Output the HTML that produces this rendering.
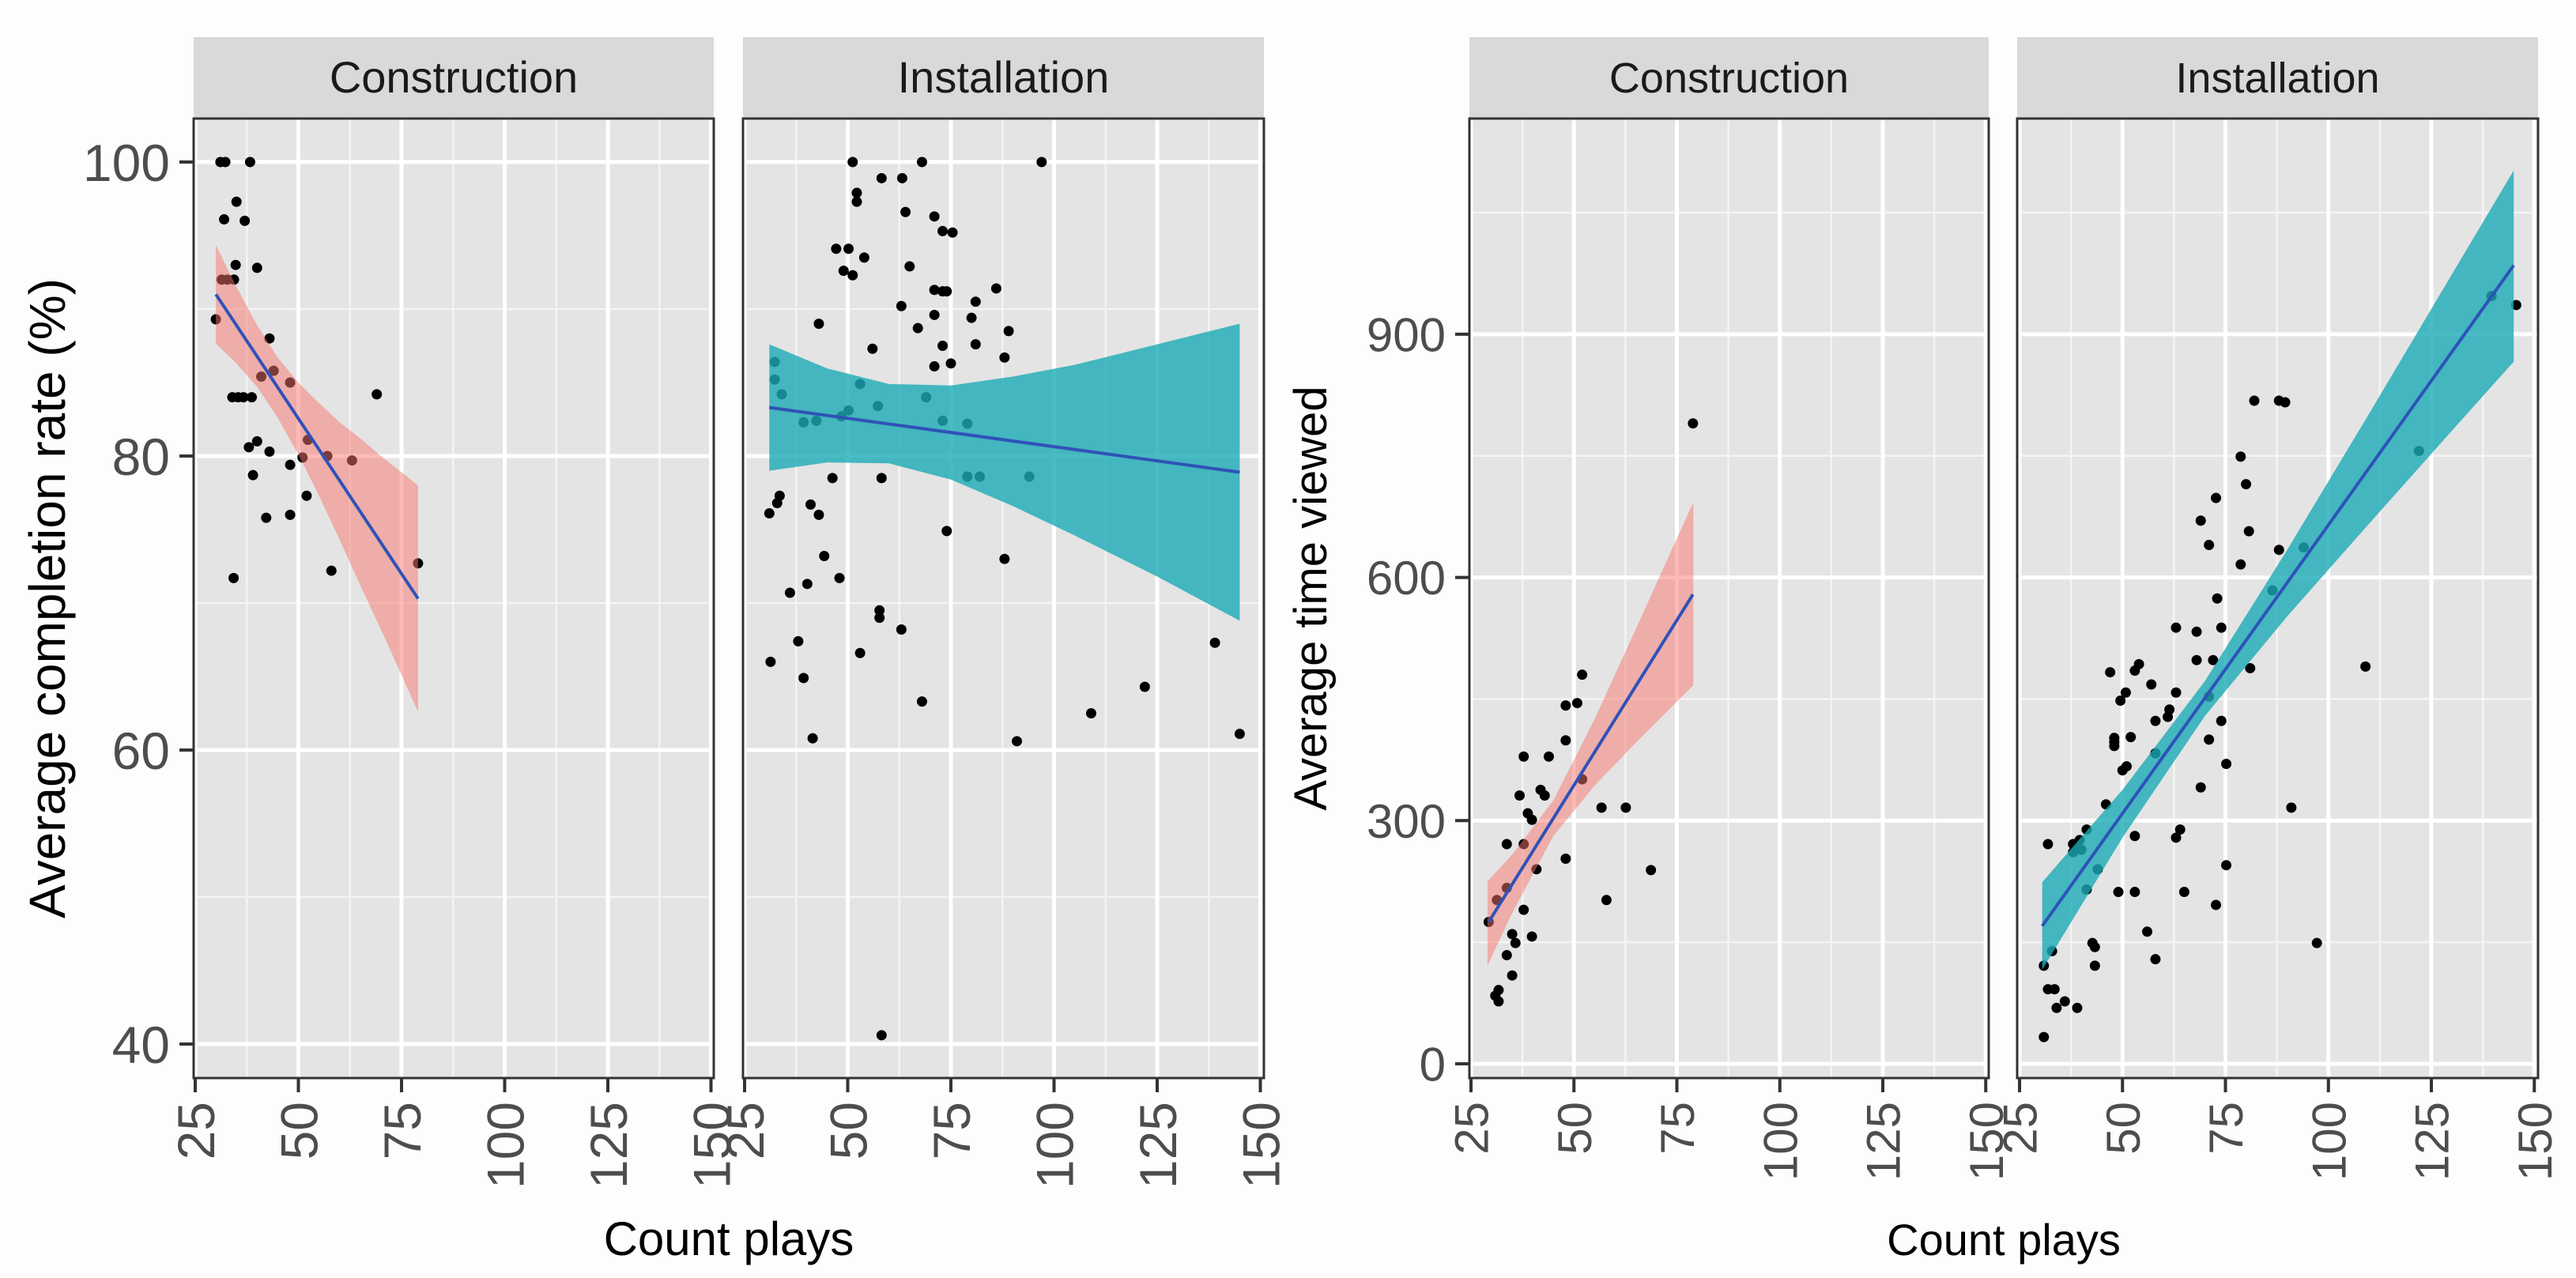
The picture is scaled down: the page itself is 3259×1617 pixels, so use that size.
<!DOCTYPE html>
<html><head><meta charset="utf-8"><style>
html,body{margin:0;padding:0;background:#fdfdfd;}
svg{display:block;font-family:"Liberation Sans",sans-serif;}
</style></head><body>
<svg id="chart" width="3259" height="1617" viewBox="0 0 3259 1617" xmlns="http://www.w3.org/2000/svg"></svg>
<script>
// ---- Left plot: completion rate ----
const consCompX = [31.1,32.3,38.3,32,35,37,34.8,40,31.4,32.8,34.4,30,43,41,44,48,34,35.4,36.7,38.7,69,38,40,43,52.3,48,51,57,63,39,52,42.2,48,58,34.3,79];
const consCompY = [100,100,100,96.1,97.3,96,93,92.8,92,92,92,89.3,88,85.4,85.8,85,84,84,84,84,84.2,80.6,81,80.3,81.1,79.4,79.9,80,79.7,78.7,77.3,75.8,76,72.2,71.7,72.7];
const consCompFit = [[30,91],[79,70.3]];
const consCompBandX = [30,35,40,45,50,55,60,65,70,75,79];
const consCompBandLo = [87.65,86.3,84.7,82.6,80.1,77.3,74.3,71.2,68.2,65.1,62.6];
const consCompBandHi = [94.35,91.5,88.9,86.7,85.0,83.6,82.3,81.2,80.0,78.9,78.0];

const instCompX = [51.2,68,97,58.2,63.2,52.2,52.2,64,71,73,75.4,47.2,50.2,54,65,49,51.2,71,73,74,86,81,63,71,80,43,67,89,73,81,56,88,75,71,32.3,32.3,53,34,69,57.3,50.2,48.5,39.3,42.4,73,79,46.3,58.2,79,82,94,33.5,32.9,31,41,43,74,44.3,88,48,36,40.2,57.7,57.7,63,38,139,53,31.3,39.3,122,68,109,145,41.5,91,58.2];
const instCompY = [100,100,100,98.9,98.9,97.9,97.3,96.6,96.3,95.3,95.2,94.1,94.1,93.5,92.9,92.6,92.3,91.3,91.2,91.2,91.4,90.5,90.2,89.6,89.4,89,88.7,88.5,87.5,87.6,87.3,86.7,86.3,86.1,86.4,85.2,84.9,84.2,84,83.4,83.1,82.7,82.3,82.4,82.4,82.2,78.5,78.5,78.6,78.6,78.6,77.3,76.8,76.1,76.7,76,74.9,73.2,73,71.7,70.7,71.3,69.5,69,68.2,67.4,67.3,66.6,66,64.9,64.3,63.3,62.5,61.1,60.8,60.6,40.6];
const instCompFit = [[31,83.3],[145,78.9]];
const instCompBandX = [31,45,60,75,90,105,125,145];
const instCompBandLo = [79.0,79.56,79.5,78.4,76.6,74.6,71.8,68.8];
const instCompBandHi = [87.6,85.96,84.9,84.8,85.4,86.2,87.6,89.0];

// ---- Right plot: time viewed ----
const consTimeX = [29.3,31.3,31.7,30.9,31.7,33.7,33.7,33.7,35,35,35.8,36.8,37.8,37.8,37.8,38.8,39.8,39.8,40.9,41.9,42.9,43.9,48,50.8,48,52,52,48,56.7,62.6,57.9,68.7,78.9];
const consTimeY = [175,202,91,84,77,271,217,134,109,160,149,331,379,271,190,309,301,157,240,338,331,379,442,445,399,480,351,253,316,316,202,239,790];
const consTimeFit = [[29.3,175],[78.9,579]];
const consTimeBandX = [29,35,45,55,65,79];
const consTimeBandLo = [121,186,281,343,396,467];
const consTimeBandHi = [225,258,325,425,536,693];

const instTimeX = [30.9,30.9,31.9,31.9,33.5,32.9,34,36,38,39.6,38,40,39,41.3,41.3,42.7,43.3,43.3,44,46,47,48,48,48,49,49.5,50.8,51,50,52,53,54,53,53,56,57,58,58,58,61,61.4,63,63,64,65,63,68,69,68,69,71,71,71,72,72.7,73,74,72.7,74,75.2,75.2,78.7,78.7,80,80.7,81,82,86.4,88,89.5,88,91,94,97.2,109,122,139.6,145.6];
const instTimeY = [33,121,271,92,92,139,69,77,271,276,261,264,69,289,215,149,144,121,240,320,483,397,392,402,212,448,458,367,362,403,485,493,212,281,163,468,423,383,129,428,437,538,279,289,212,458,533,670,498,341,640,453,400,498,698,574,538,196,423,370,245,749,616,715,657,488,818,584,818,816,634,316,637,149,490,756,947,936];
const instTimeFit = [[30.5,170],[145,985]];
const instTimeBandX = [30.5,50,70,90,110,130,145];
const instTimeBandLo = [116,279,429,552,667,781,866];
const instTimeBandHi = [224,338,472,634,803,974,1102];

const NS = "http://www.w3.org/2000/svg";
const svg = document.getElementById('chart');
function mk(tag, attrs, parent){
  const e = document.createElementNS(NS, tag);
  for (const k in attrs) e.setAttribute(k, attrs[k]);
  (parent||svg).appendChild(e);
  return e;
}
const PT = 150, PB = 1364;

function panel(opt){
  const g = mk('g', {});
  
  
  const sx = v => opt.x25 + (v - 25) * opt.xu;
  const sy = v => opt.y0 - (v - opt.yv0) * opt.yu;
  const strip = mk('rect', {x:opt.left, y:47, width:opt.right-opt.left, height:PT-47, fill:'#d9d9d9'}, g);
  
  
  const st = mk('text', {x:(opt.left+opt.right)/2, y:117, 'text-anchor':'middle', 'font-size':opt.stripFs, fill:'#1a1a1a'}, g);
  st.textContent = opt.title;
  
  
  const bg = mk('rect', {x:opt.left, y:PT, width:opt.right-opt.left, height:PB-PT, fill:'#e4e4e4'}, g);
  
  
  for (let v = 37.5; v <= 150; v += 25) { const X = sx(v); mk('line', {x1:X, x2:X, y1:PT, y2:PB, stroke:'#f4f4f4', 'stroke-width':2.5}, g); }
  opt.yMinor.forEach(v => { const Y = sy(v); mk('line', {x1:opt.left, x2:opt.right, y1:Y, y2:Y, stroke:'#f4f4f4', 'stroke-width':2.5}, g); });
  for (let v = 25; v <= 150; v += 25) { const X = sx(v); mk('line', {x1:X, x2:X, y1:PT, y2:PB, stroke:'#ffffff', 'stroke-width':5}, g); }
  opt.yMajor.forEach(v => { const Y = sy(v); mk('line', {x1:opt.left, x2:opt.right, y1:Y, y2:Y, stroke:'#ffffff', 'stroke-width':5}, g); });
  for (let i = 0; i < opt.px.length; i++) {
    const c = mk('circle', {cx:sx(opt.px[i]), cy:sy(opt.py[i]), r:opt.r, fill:'#000'}, g);
    
    
  }
  let d = '';
  opt.bx.forEach((v,i) => { d += (i ? 'L' : 'M') + sx(v) + ',' + sy(opt.bhi[i]); });
  for (let i = opt.bx.length - 1; i >= 0; i--) d += 'L' + sx(opt.bx[i]) + ',' + sy(opt.blo[i]);
  const band = mk('path', {d:d + 'Z', fill:opt.bandColor, 'fill-opacity':opt.bandOp}, g);
  
  
  const ln = mk('line', {x1:sx(opt.fit[0][0]), y1:sy(opt.fit[0][1]), x2:sx(opt.fit[1][0]), y2:sy(opt.fit[1][1]), stroke:'#2f52b8', 'stroke-width':4}, g);
  
  
  mk('rect', {x:opt.left, y:PT, width:opt.right-opt.left, height:PB-PT, fill:'none', stroke:'#333', 'stroke-width':3}, g);
  for (let v = 25; v <= 150; v += 25) {
    const X = sx(v);
    mk('line', {x1:X, x2:X, y1:PB, y2:PB+18, stroke:'#333', 'stroke-width':4}, g);
    const t = mk('text', {transform:`translate(${X + opt.tickFs*0.36},${PB+30}) rotate(-90)`, 'text-anchor':'end', 'font-size':opt.tickFs, fill:'#4d4d4d'}, g);
    t.textContent = v;
    
    
  }
  if (opt.showY) {
    opt.yMajor.forEach(v => {
      const Y = sy(v);
      mk('line', {x1:opt.left-18, x2:opt.left, y1:Y, y2:Y, stroke:'#333', 'stroke-width':4}, g);
      const t = mk('text', {x:opt.left-30, y:Y + opt.tickFs*0.36, 'text-anchor':'end', 'font-size':opt.tickFs, fill:'#4d4d4d'}, g);
      t.textContent = v;
      
      
    });
  }
}

panel({name:'completion-construction-panel', title:'Construction', left:245, right:903, x25:247, xu:5.22, y0:205, yv0:100, yu:18.6,
  yMajor:[40,60,80,100], yMinor:[50,70,90], px:consCompX, py:consCompY, fit:consCompFit, bx:consCompBandX, blo:consCompBandLo, bhi:consCompBandHi,
  bandColor:'#f8766d', bandOp:0.5, r:6.5, stripFs:56, tickFs:66, showY:true});
panel({name:'completion-installation-panel', title:'Installation', left:940, right:1599, x25:942, xu:5.22, y0:205, yv0:100, yu:18.6,
  yMajor:[40,60,80,100], yMinor:[50,70,90], px:instCompX, py:instCompY, fit:instCompFit, bx:instCompBandX, blo:instCompBandLo, bhi:instCompBandHi,
  bandColor:'#1aaab5', bandOp:0.8, r:6.5, stripFs:56, tickFs:66, showY:false});
panel({name:'time-construction-panel', title:'Construction', left:1859, right:2516, x25:1861, xu:5.21, y0:1346, yv0:0, yu:1.0257,
  yMajor:[0,300,600,900], yMinor:[150,450,750,1050], px:consTimeX, py:consTimeY, fit:consTimeFit, bx:consTimeBandX, blo:consTimeBandLo, bhi:consTimeBandHi,
  bandColor:'#f8766d', bandOp:0.5, r:6.5, stripFs:54, tickFs:60, showY:true});
panel({name:'time-installation-panel', title:'Installation', left:2552, right:3211, x25:2555, xu:5.21, y0:1346, yv0:0, yu:1.0257,
  yMajor:[0,300,600,900], yMinor:[150,450,750,1050], px:instTimeX, py:instTimeY, fit:instTimeFit, bx:instTimeBandX, blo:instTimeBandLo, bhi:instTimeBandHi,
  bandColor:'#1aaab5', bandOp:0.8, r:6.5, stripFs:54, tickFs:60, showY:false});

function title(txt, x, y, fs, rot, name){
  const t = mk('text', {transform:`translate(${x},${y})` + (rot ? ' rotate(-90)' : ''), 'text-anchor':'middle', 'font-size':fs, fill:'#000'});
  t.textContent = txt;
  
  
}
title('Average completion rate (%)', 82, 757, 64, true, 'y-axis-title-completion');
title('Count plays', 922, 1588, 60, false, 'x-axis-title-left');
title('Average time viewed', 1678, 757, 58, true, 'y-axis-title-time');
title('Count plays', 2535, 1588, 56, false, 'x-axis-title-right');
</script>
</body></html>
